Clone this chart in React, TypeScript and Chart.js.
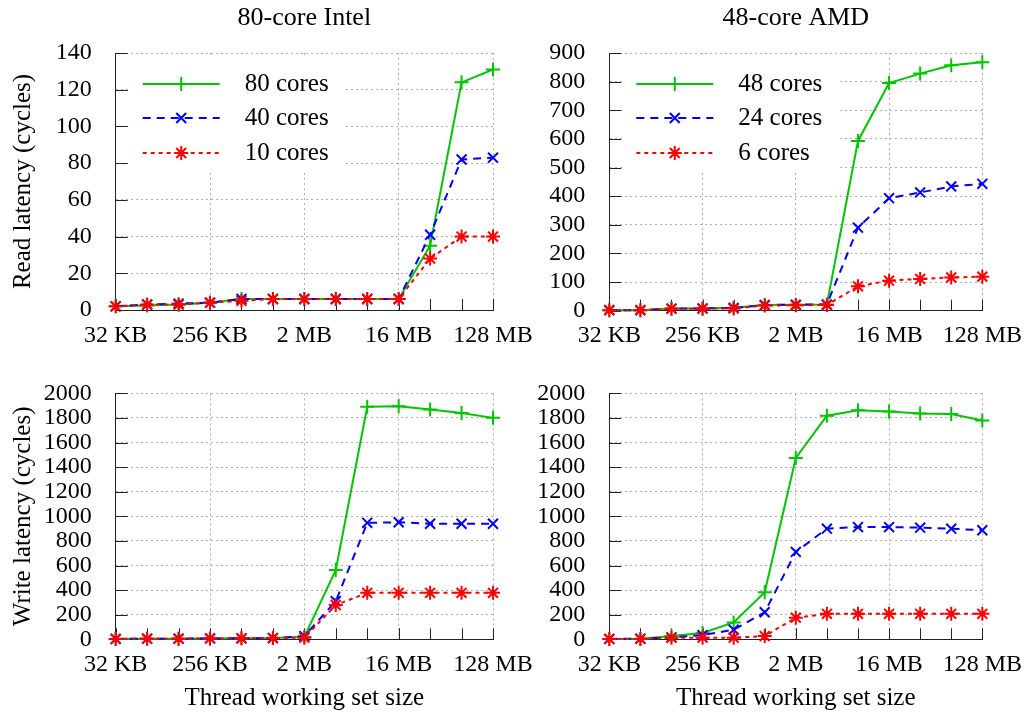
import React, { useEffect, useRef } from 'react';
import { Chart, registerables } from 'chart.js';
import { drawPoint } from 'chart.js/helpers';

Chart.register(...registerables);

const FONT = "'Liberation Serif', 'DejaVu Serif', serif";

const sizes = ['32 KB', '64 KB', '128 KB', '256 KB', '512 KB', '1 MB', '2 MB', '4 MB', '8 MB', '16 MB', '32 MB', '64 MB', '128 MB'];
const labeledSizes = ['32 KB', '256 KB', '2 MB', '16 MB', '128 MB'];

const intelLabels = ['80 cores', '40 cores', '10 cores'];
const amdLabels = ['48 cores', '24 cores', '6 cores'];

const intelRead80 = [2, 2.5, 3, 4, 6, 6, 6, 6, 6, 6, 35, 124, 131];
const intelRead40 = [2, 3, 3.5, 4, 6, 6, 6, 6, 6, 6, 41, 82, 83];
const intelRead10 = [2, 3, 3, 4, 5, 6, 6, 6, 6, 6, 28, 40, 40];

const amdRead48 = [2, 2, 8, 8, 10, 20, 21, 22, 593, 795, 828, 857, 868];
const amdRead24 = [2, 2, 7, 8, 10, 20, 21, 22, 290, 393, 413, 434, 443];
const amdRead6 = [2, 2, 7, 7, 8, 18, 19, 20, 85, 105, 111, 116, 119];

const intelWrite80 = [3, 5, 5, 7, 8, 10, 20, 564, 1891, 1896, 1870, 1840, 1801];
const intelWrite40 = [3, 5, 5, 7, 8, 10, 26, 310, 947, 952, 940, 940, 940];
const intelWrite10 = [3, 5, 5, 7, 8, 10, 13, 279, 378, 378, 378, 378, 378];

const amdWrite48 = [3, 5, 26, 52, 137, 383, 1475, 1819, 1863, 1853, 1837, 1832, 1780];
const amdWrite24 = [3, 5, 15, 34, 78, 220, 711, 900, 913, 913, 908, 900, 887];
const amdWrite6 = [3, 3, 13, 13, 13, 26, 176, 207, 207, 207, 207, 207, 207];

const seriesStyles = [
  { color: '#00c800', dash: [] as number[], pointStyle: 'cross', radius: 7, order: 3 },
  { color: '#0000ff', dash: [8, 6], pointStyle: 'crossRot', radius: 7, order: 2 },
  { color: '#ff0000', dash: [4, 4], pointStyle: 'star', radius: 7, order: 1 },
];

type Panel = {
  left: number; top: number; width: number; height: number;
  cLeft: number; cRight: number; cTop: number; cBottom: number;
  title?: string; yTitle?: string; xTitle?: string;
  yMax: number; yStep: number;
  series: number[][]; labels: string[]; legend: boolean;
};

const panels: Panel[] = [
  { left: 0, top: 0, width: 560, height: 355, cLeft: 115.7, cRight: 493, cTop: 53, cBottom: 310,
    title: '80-core Intel', yTitle: 'Read latency (cycles)', yMax: 140, yStep: 20,
    series: [intelRead80, intelRead40, intelRead10], labels: intelLabels, legend: true },
  { left: 500, top: 0, width: 533, height: 355, cLeft: 109.3, cRight: 486.7, cTop: 53, cBottom: 310.7,
    title: '48-core AMD', yMax: 900, yStep: 100,
    series: [amdRead48, amdRead24, amdRead6], labels: amdLabels, legend: true },
  { left: 0, top: 355, width: 560, height: 360, cLeft: 115.7, cRight: 493, cTop: 26.7, cBottom: 284.3,
    yTitle: 'Write latency (cycles)', xTitle: 'Thread working set size', yMax: 2000, yStep: 200,
    series: [intelWrite80, intelWrite40, intelWrite10], labels: intelLabels, legend: false },
  { left: 500, top: 355, width: 533, height: 360, cLeft: 109.3, cRight: 486.7, cTop: 26.7, cBottom: 284.3,
    xTitle: 'Thread working set size', yMax: 2000, yStep: 200,
    series: [amdWrite48, amdWrite24, amdWrite6], labels: amdLabels, legend: false },
];

const GRID = '#b0b0b0';
const DOTS = [2, 3];

const decorPlugin = {
  id: 'panelDecor',
  beforeDatasetsDraw(chart: any, _args: any, opts: any) {
    const ctx = chart.ctx as CanvasRenderingContext2D;
    const { left, bottom } = chart.chartArea;
    const xs = chart.scales.x;
    const ys = chart.scales.y;
    ctx.save();
    if (opts.legend) {
      const boxTop = chart.chartArea.top + 5;
      ctx.fillStyle = '#ffffff';
      ctx.fillRect(left + 13, boxTop, 215, 112);
      const rows = [84, 118, 153];
      chart.data.datasets.forEach((ds: any, i: number) => {
        const y = rows[i];
        const x0 = left + 27;
        const x1 = left + 104;
        ctx.strokeStyle = ds.borderColor;
        ctx.lineWidth = 2;
        ctx.setLineDash(ds.borderDash || []);
        ctx.beginPath();
        ctx.moveTo(x0, y);
        ctx.lineTo(x1, y);
        ctx.stroke();
        ctx.setLineDash([]);
        ctx.fillStyle = ds.borderColor;
        ctx.strokeStyle = ds.borderColor;
        drawPoint(ctx, { pointStyle: ds.pointStyle, radius: ds.pointRadius, borderWidth: 2, rotation: 0 } as any, (x0 + x1) / 2, y);
        ctx.fillStyle = '#000';
        ctx.font = `25px ${FONT}`;
        ctx.textAlign = 'left';
        ctx.textBaseline = 'middle';
        ctx.fillText(ds.label, left + 129, y);
      });
    }
    ctx.strokeStyle = '#222';
    ctx.lineWidth = 1;
    ctx.setLineDash([]);
    ctx.beginPath();
    xs.ticks.forEach((_t: any, i: number) => {
      const px = Math.round(xs.getPixelForTick(i)) + 0.5;
      ctx.moveTo(px, bottom);
      ctx.lineTo(px, bottom - 11);
    });
    ys.ticks.forEach((_t: any, i: number) => {
      const py = Math.round(ys.getPixelForTick(i)) + 0.5;
      ctx.moveTo(left, py);
      ctx.lineTo(left + 12, py);
    });
    ctx.stroke();
    ctx.restore();
  },
};

function PanelChart({ p }: { p: Panel }) {
  const ref = useRef<HTMLCanvasElement | null>(null);
  useEffect(() => {
    if (!ref.current) return;
    const titleSize = 26;
    const titleLine = titleSize * 1.2;
    const chart = new Chart(ref.current, {
      type: 'line',
      data: {
        labels: sizes,
        datasets: p.series.map((vals, i) => ({
          label: p.labels[i],
          data: vals,
          borderColor: seriesStyles[i].color,
          backgroundColor: seriesStyles[i].color,
          borderWidth: 2,
          borderDash: seriesStyles[i].dash,
          pointStyle: seriesStyles[i].pointStyle as any,
          pointRadius: seriesStyles[i].radius,
          pointBorderWidth: 2,
          pointBorderColor: seriesStyles[i].color,
          tension: 0,
          fill: false,
          clip: false as any,
          order: seriesStyles[i].order,
        })),
      },
      options: {
        animation: false,
        responsive: false,
        devicePixelRatio: 1,
        layout: {
          padding: {
            left: 0,
            right: p.width - p.cRight,
            top: p.title ? 0 : p.cTop,
            bottom: 0,
          },
        },
        plugins: {
          legend: { display: false },
          tooltip: { enabled: false },
          title: p.title
            ? {
                display: true,
                text: p.title,
                fullSize: false,
                color: '#000',
                font: { family: FONT, size: titleSize, weight: 'normal' },
                padding: { top: 3, bottom: p.cTop - titleLine - 3 },
              }
            : { display: false },
          panelDecor: { legend: p.legend },
        } as any,
        scales: {
          x: {
            type: 'category',
            offset: false,
            afterFit: (scale: any) => { scale.height = p.height - p.cBottom; },
            grid: {
              color: (c: any) => (c.index % 3 === 0 ? GRID : 'rgba(0,0,0,0)'),
              lineWidth: 1,
              drawTicks: false,
            },
            border: { display: true, color: '#222', width: 1, dash: DOTS },
            ticks: {
              autoSkip: false,
              maxRotation: 0,
              minRotation: 0,
              padding: 11,
              color: '#000',
              font: { family: FONT, size: 24 },
              callback: function (this: any, value: any) {
                const l = this.getLabelForValue(value);
                return labeledSizes.includes(l) ? l : '';
              },
            },
            title: p.xTitle
              ? { display: true, text: p.xTitle, color: '#000', font: { family: FONT, size: 25 }, padding: { top: 0, bottom: 2 } }
              : { display: false },
          } as any,
          y: {
            min: 0,
            max: p.yMax,
            afterFit: (scale: any) => { scale.width = p.cLeft; },
            grid: {
              color: (c: any) => (c.tick && c.tick.value === 0 ? 'rgba(0,0,0,0)' : GRID),
              lineWidth: 1,
              drawTicks: false,
            },
            border: { display: true, color: '#222', width: 1, dash: DOTS },
            ticks: {
              stepSize: p.yStep,
              autoSkip: false,
              padding: 24,
              color: '#000',
              font: { family: FONT, size: 24 },
              callback: (v: any) => String(v),
            },
            title: p.yTitle
              ? { display: true, text: p.yTitle, color: '#000', font: { family: FONT, size: 25 }, padding: { top: 8, bottom: 0 } }
              : { display: false },
          } as any,
        },
      },
      plugins: [decorPlugin],
    });
    return () => chart.destroy();
  }, [p]);
  return (
    <canvas
      ref={ref}
      width={p.width}
      height={p.height}
      style={{ position: 'absolute', left: p.left, top: p.top, width: p.width, height: p.height }}
    />
  );
}

export default function App() {
  return (
    <div style={{ position: 'absolute', left: 0, top: 0, width: 1033, height: 715, background: '#fff' }}>
      {panels.map((p, i) => (
        <PanelChart key={i} p={p} />
      ))}
    </div>
  );
}
